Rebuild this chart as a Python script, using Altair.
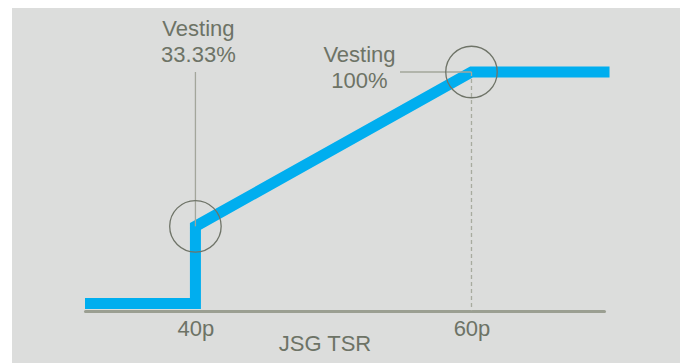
import altair as alt
import pandas as pd

# Vesting schedule: JSG TSR (pence) against share of the award vesting (%)
tsr_pence = [32, 40, 40, 60, 70]
vesting_pct = [0, 0, 33.33, 100, 100]

# Threshold and maximum points called out on the chart
point_tsr = [40, 60]
point_vesting = [33.33, 100]
point_labels = ["Vesting\n33.33%", "Vesting\n100%"]

tick_values = [40, 60]
axis_title = "JSG TSR"

BG = "#dcdddc"
BLUE = "#00aeef"
TEXT = "#6d7366"
AXIS = "#9b9f92"
LEADER = "#a3a69b"
RING = "#6f7468"
FONT = "Liberation Sans"

schedule = pd.DataFrame(
    {"tsr": tsr_pence, "vesting": vesting_pct, "step": list(range(len(tsr_pence)))}
)
points = pd.DataFrame({"tsr": point_tsr, "vesting": point_vesting, "label": point_labels})

x_scale = alt.Scale(domain=[32, 69.6], range=[73, 592], nice=False, zero=False)
y_scale = alt.Scale(domain=[0, 100], range=[295.5, 64], nice=False, zero=False)

x_axis = alt.Axis(
    values=tick_values,
    labelExpr="datum.value + 'p'",
    ticks=False,
    tickSize=0,
    grid=False,
    domainColor=AXIS,
    domainWidth=3,
    domainCap="round",
    offset=-52,
    labelFont=FONT,
    labelFontSize=22,
    labelColor=TEXT,
    labelBaseline="alphabetic",
    labelPadding=24,
    labelFlush=False,
    labelOverlap=False,
    title=axis_title,
    titleFont=FONT,
    titleFontSize=22,
    titleFontWeight="normal",
    titleColor=TEXT,
    titleX=312.5,
    titleY=39.5,
    titleAlign="center",
    titleBaseline="alphabetic",
)

line = (
    alt.Chart(schedule)
    .mark_line(color=BLUE, strokeWidth=11, strokeJoin="miter", strokeCap="butt")
    .encode(
        x=alt.X("tsr:Q", scale=x_scale, axis=x_axis),
        y=alt.Y("vesting:Q", scale=y_scale, axis=None),
        order="step:Q",
    )
)

base = alt.Chart(points)

# Dashed drop line from the maximum point to the axis
drop = (
    base.transform_filter(f"datum.tsr == {point_tsr[1]}")
    .mark_rule(color="#a8ab9f", strokeWidth=1.3, strokeDash=[4, 3])
    .encode(x="tsr:Q", y="vesting:Q", y2=alt.value(302.7))
)

# Leader lines from the labels to the points
leader_threshold = (
    base.transform_filter(f"datum.tsr == {point_tsr[0]}")
    .mark_rule(color=LEADER, strokeWidth=1.3)
    .encode(x="tsr:Q", y="vesting:Q", y2=alt.value(64))
)
leader_max = (
    base.transform_filter(f"datum.tsr == {point_tsr[1]}")
    .mark_rule(color=LEADER, strokeWidth=1.3)
    .encode(x="tsr:Q", x2=alt.value(388), y="vesting:Q")
)

rings = base.mark_point(
    shape="circle", size=2650, filled=False, stroke=RING, strokeWidth=1.3, opacity=1
).encode(x="tsr:Q", y="vesting:Q")

text_style = dict(
    align="center",
    baseline="alphabetic",
    lineBreak="\n",
    lineHeight=26,
    font=FONT,
    fontSize=22,
    color=TEXT,
)
label_threshold = (
    base.transform_filter(f"datum.tsr == {point_tsr[0]}")
    .mark_text(dx=3, **text_style)
    .encode(x="tsr:Q", y=alt.value(28), text="label:N")
)
label_max = (
    base.transform_filter(f"datum.tsr == {point_tsr[1]}")
    .mark_text(dx=-112, **text_style)
    .encode(x="tsr:Q", y=alt.value(53.5), text="label:N")
)

chart = (
    alt.layer(line, drop, leader_threshold, leader_max, rings, label_threshold, label_max)
    .properties(
        width=668,
        height=355,
        padding={"left": 12, "top": 8, "right": 0, "bottom": 0},
        autosize=alt.AutoSizeParams(type="none"),
        background="white",
    )
    .configure_view(fill=BG, stroke=None)
)

chart.save("out.html", embed_options={"renderer": "svg", "actions": False})
